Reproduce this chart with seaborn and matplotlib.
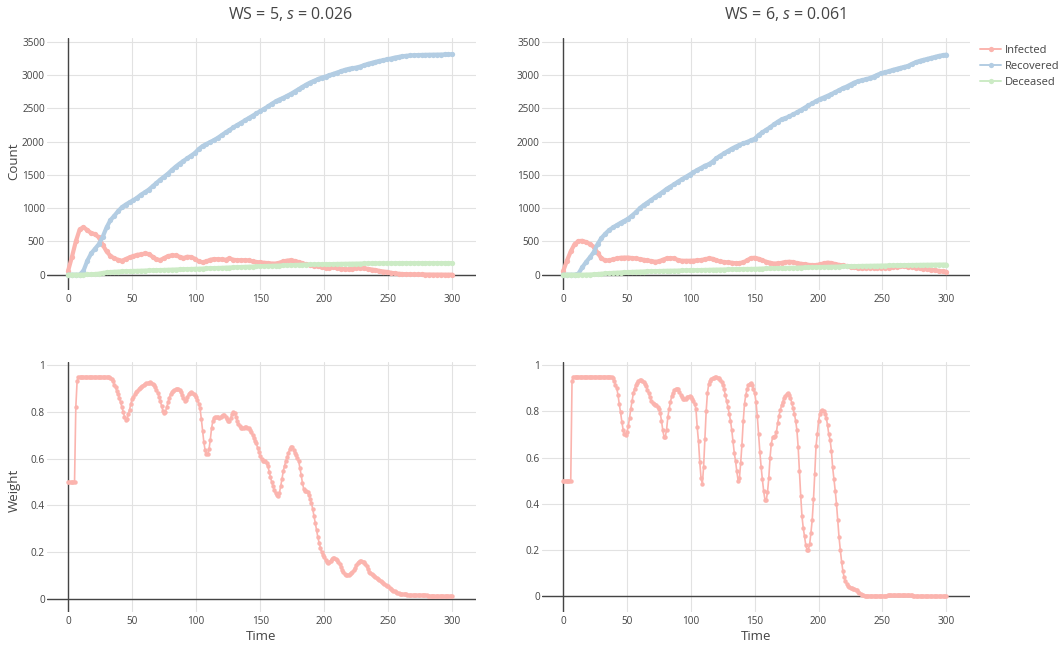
import matplotlib
matplotlib.use("Agg")
import matplotlib.pyplot as plt
import pandas as pd
import seaborn as sns

# time axes (counts were read every 3 steps, weights every step)
time_counts = list(range(0, 301, 3))
time_weight = list(range(0, 301))

status_names = ["Infected", "Recovered", "Deceased"]

# WS = 5, s = 0.026
infected_ws5 = [
    60, 270, 500, 680, 715, 670, 625, 610, 560, 450,
    350, 285, 245, 225, 210, 235, 260, 280, 300, 305,
    320, 310, 270, 230, 220, 250, 280, 290, 290, 270,
    250, 270, 265, 240, 200, 185, 200, 225, 235, 232,
    230, 225, 245, 225, 218, 218, 218, 215, 200, 190,
    185, 180, 175, 168, 168, 180, 200, 212, 218, 205,
    190, 170, 155, 145, 135, 125, 110, 105, 108, 110,
    100, 90, 82, 80, 92, 98, 98, 95, 88, 78,
    70, 58, 48, 42, 30, 20, 15, 10, 8, 6,
    5, 4, 4, 3, 3, 2, 2, 2, 1, 1,
    1]
recovered_ws5 = [
    0, 0, 0, 0, 60, 210, 320, 390, 460, 570,
    710, 820, 885, 955, 1015, 1055, 1090, 1120, 1160, 1205,
    1240, 1280, 1330, 1380, 1430, 1475, 1520, 1575, 1625, 1670,
    1710, 1750, 1790, 1830, 1890, 1935, 1965, 1995, 2025, 2060,
    2100, 2140, 2175, 2215, 2250, 2285, 2320, 2355, 2390, 2425,
    2460, 2495, 2530, 2570, 2605, 2635, 2660, 2690, 2720, 2755,
    2790, 2825, 2860, 2890, 2915, 2940, 2965, 2980, 3000, 3020,
    3040, 3060, 3080, 3095, 3105, 3115, 3130, 3150, 3170, 3185,
    3200, 3215, 3225, 3240, 3250, 3265, 3275, 3285, 3292, 3297,
    3300, 3303, 3305, 3307, 3308, 3309, 3310, 3311, 3312, 3313,
    3315]
deceased_ws5 = [
    0, 0, 0, 0, 2, 4, 6, 10, 16, 26,
    34, 40, 44, 47, 50, 52, 54, 56, 58, 60,
    62, 64, 66, 68, 70, 72, 74, 76, 78, 80,
    82, 84, 86, 88, 90, 92, 95, 97, 99, 101,
    103, 106, 108, 110, 113, 115, 118, 120, 122, 125,
    128, 130, 132, 134, 136, 138, 140, 142, 144, 146,
    148, 150, 152, 154, 155, 156, 157, 158, 159, 160,
    162, 163, 164, 165, 166, 167, 168, 169, 170, 170,
    171, 171, 172, 172, 172, 172, 173, 173, 173, 173,
    173, 173, 173, 173, 173, 173, 173, 173, 173, 173,
    173]
weight_ws5 = [
    0.50, 0.50, 0.50, 0.50, 0.50, 0.50, 0.82, 0.93, 0.95, 0.95,
    0.95, 0.95, 0.95, 0.95, 0.95, 0.95, 0.95, 0.95, 0.95, 0.95,
    0.95, 0.95, 0.95, 0.95, 0.95, 0.95, 0.95, 0.95, 0.95, 0.95,
    0.95, 0.95, 0.95, 0.945, 0.94, 0.93, 0.915, 0.905, 0.89, 0.875,
    0.86, 0.84, 0.82, 0.80, 0.78, 0.765, 0.77, 0.79, 0.81, 0.835,
    0.855, 0.865, 0.875, 0.885, 0.89, 0.897, 0.903, 0.908, 0.912, 0.916,
    0.919, 0.922, 0.924, 0.925, 0.926, 0.925, 0.92, 0.913, 0.905, 0.895,
    0.88, 0.865, 0.845, 0.825, 0.805, 0.797, 0.80, 0.82, 0.84, 0.86,
    0.875, 0.884, 0.89, 0.893, 0.896, 0.898, 0.898, 0.895, 0.885, 0.872,
    0.858, 0.848, 0.85, 0.862, 0.875, 0.882, 0.884, 0.882, 0.877, 0.872,
    0.863, 0.852, 0.835, 0.815, 0.77, 0.72, 0.67, 0.635, 0.62, 0.62,
    0.64, 0.68, 0.73, 0.76, 0.775, 0.78, 0.78, 0.777, 0.775, 0.778,
    0.783, 0.787, 0.786, 0.78, 0.77, 0.762, 0.762, 0.775, 0.79, 0.80,
    0.795, 0.78, 0.763, 0.748, 0.738, 0.733, 0.732, 0.733, 0.735, 0.735,
    0.733, 0.73, 0.723, 0.712, 0.70, 0.69, 0.675, 0.665, 0.645, 0.63,
    0.61, 0.597, 0.592, 0.59, 0.588, 0.58, 0.567, 0.545, 0.52, 0.50,
    0.482, 0.465, 0.452, 0.443, 0.44, 0.455, 0.482, 0.515, 0.546, 0.57,
    0.59, 0.607, 0.624, 0.64, 0.652, 0.65, 0.638, 0.625, 0.615, 0.605,
    0.59, 0.56, 0.53, 0.495, 0.47, 0.462, 0.46, 0.456, 0.445, 0.428,
    0.41, 0.385, 0.355, 0.325, 0.295, 0.265, 0.24, 0.22, 0.20, 0.19,
    0.178, 0.168, 0.158, 0.154, 0.158, 0.165, 0.172, 0.176, 0.176, 0.172,
    0.167, 0.16, 0.15, 0.138, 0.125, 0.114, 0.107, 0.103, 0.102, 0.104,
    0.108, 0.112, 0.118, 0.124, 0.133, 0.145, 0.155, 0.16, 0.162, 0.162,
    0.16, 0.157, 0.15, 0.14, 0.127, 0.115, 0.11, 0.107, 0.104, 0.10,
    0.095, 0.09, 0.085, 0.08, 0.077, 0.073, 0.07, 0.066, 0.062, 0.058,
    0.054, 0.048, 0.044, 0.04, 0.036, 0.033, 0.03, 0.027, 0.025, 0.024,
    0.023, 0.022, 0.021, 0.02, 0.02, 0.019, 0.018, 0.018, 0.017, 0.017,
    0.017, 0.016, 0.016, 0.016, 0.016, 0.016, 0.016, 0.016, 0.016, 0.016,
    0.016, 0.015, 0.015, 0.015, 0.015, 0.015, 0.014, 0.014, 0.014, 0.014,
    0.014, 0.014, 0.013, 0.013, 0.013, 0.013, 0.013, 0.013, 0.013, 0.013,
    0.013]

# WS = 6, s = 0.061
infected_ws6 = [
    50, 210, 350, 460, 505, 510, 490, 460, 420, 330,
    245, 215, 215, 230, 245, 255, 258, 258, 250, 245,
    235, 225, 215, 205, 195, 200, 225, 245, 250, 245,
    220, 210, 210, 210, 212, 215, 220, 232, 245, 240,
    215, 200, 190, 185, 180, 172, 175, 185, 215, 250,
    255, 240, 215, 195, 180, 168, 170, 178, 190, 195,
    190, 175, 165, 158, 148, 145, 145, 155, 170, 182,
    175, 160, 148, 140, 130, 120, 110, 98, 95, 100,
    106, 104, 101, 100, 103, 106, 112, 120, 126, 124,
    118, 115, 108, 98, 90, 84, 76, 66, 58, 50,
    45]
recovered_ws6 = [
    0, 0, 0, 0, 15, 110, 190, 260, 340, 460,
    550, 615, 670, 710, 745, 780, 810, 845, 890, 940,
    1000, 1045, 1085, 1125, 1165, 1205, 1245, 1290, 1325, 1360,
    1400, 1435, 1470, 1505, 1540, 1575, 1605, 1640, 1660, 1700,
    1750, 1790, 1825, 1860, 1895, 1925, 1950, 1975, 1995, 2020,
    2045, 2100, 2140, 2180, 2215, 2260, 2300, 2335, 2355, 2380,
    2410, 2440, 2475, 2510, 2545, 2575, 2610, 2640, 2665, 2690,
    2715, 2745, 2775, 2805, 2830, 2860, 2890, 2910, 2925, 2940,
    2955, 2980, 3005, 3030, 3045, 3060, 3080, 3095, 3110, 3125,
    3140, 3170, 3195, 3215, 3230, 3245, 3260, 3275, 3290, 3300,
    3310]
deceased_ws6 = [
    0, 0, 0, 0, 0, 0, 2, 3, 5, 10,
    15, 19, 23, 27, 30, 33, 36, 39, 42, 44,
    46, 48, 50, 52, 54, 55, 57, 59, 60, 61,
    62, 64, 65, 66, 67, 69, 70, 72, 73, 75,
    76, 77, 78, 80, 81, 82, 84, 85, 86, 87,
    88, 90, 92, 94, 95, 97, 98, 100, 102, 103,
    105, 106, 108, 110, 111, 113, 114, 115, 117, 118,
    120, 121, 123, 124, 126, 128, 129, 130, 132, 133,
    134, 135, 136, 137, 138, 139, 140, 141, 142, 143,
    145, 146, 147, 148, 149, 150, 150, 151, 152, 152,
    153]
weight_ws6 = [
    0.50, 0.50, 0.50, 0.50, 0.50, 0.50, 0.50, 0.93, 0.95, 0.95,
    0.95, 0.95, 0.95, 0.95, 0.95, 0.95, 0.95, 0.95, 0.95, 0.95,
    0.95, 0.95, 0.95, 0.95, 0.95, 0.95, 0.95, 0.95, 0.95, 0.95,
    0.95, 0.95, 0.95, 0.95, 0.95, 0.95, 0.95, 0.95, 0.95, 0.945,
    0.93, 0.915, 0.90, 0.87, 0.83, 0.795, 0.755, 0.72, 0.70, 0.698,
    0.71, 0.735, 0.77, 0.81, 0.845, 0.878, 0.898, 0.913, 0.924, 0.93,
    0.934, 0.935, 0.932, 0.926, 0.918, 0.908, 0.893, 0.878, 0.86, 0.845,
    0.836, 0.832, 0.828, 0.826, 0.82, 0.81, 0.792, 0.76, 0.72, 0.69,
    0.69, 0.72, 0.775, 0.81, 0.84, 0.864, 0.88, 0.89, 0.896, 0.897,
    0.895, 0.885, 0.872, 0.86, 0.854, 0.852, 0.855, 0.86, 0.863, 0.864,
    0.861, 0.855, 0.845, 0.83, 0.81, 0.73, 0.67, 0.58, 0.51, 0.486,
    0.56, 0.68, 0.80, 0.88, 0.917, 0.932, 0.94, 0.943, 0.945, 0.946,
    0.946, 0.945, 0.942, 0.937, 0.928, 0.915, 0.895, 0.87, 0.845, 0.82,
    0.79, 0.76, 0.72, 0.67, 0.62, 0.584, 0.54, 0.50, 0.51, 0.575,
    0.656, 0.756, 0.832, 0.87, 0.895, 0.913, 0.92, 0.921, 0.912, 0.895,
    0.878, 0.84, 0.78, 0.70, 0.625, 0.56, 0.505, 0.455, 0.418, 0.415,
    0.45, 0.51, 0.60, 0.66, 0.688, 0.69, 0.693, 0.71, 0.75, 0.78,
    0.805, 0.825, 0.842, 0.857, 0.868, 0.875, 0.878, 0.872, 0.858, 0.836,
    0.812, 0.79, 0.76, 0.72, 0.645, 0.54, 0.435, 0.345, 0.295, 0.259,
    0.22, 0.201, 0.202, 0.225, 0.275, 0.33, 0.42, 0.53, 0.65, 0.70,
    0.76, 0.79, 0.803, 0.806, 0.80, 0.788, 0.772, 0.74, 0.70, 0.676,
    0.63, 0.557, 0.507, 0.457, 0.40, 0.33, 0.255, 0.20, 0.15, 0.11,
    0.082, 0.065, 0.053, 0.045, 0.04, 0.036, 0.034, 0.033, 0.032, 0.029,
    0.025, 0.02, 0.014, 0.01, 0.006, 0.004, 0.003, 0.003, 0.003, 0.003,
    0.003, 0.003, 0.003, 0.003, 0.003, 0.003, 0.003, 0.003, 0.003, 0.003,
    0.003, 0.003, 0.003, 0.003, 0.004, 0.004, 0.004, 0.005, 0.005, 0.005,
    0.006, 0.006, 0.006, 0.006, 0.006, 0.006, 0.006, 0.006, 0.005, 0.005,
    0.005, 0.004, 0.004, 0.004, 0.003, 0.003, 0.003, 0.002, 0.002, 0.002,
    0.002, 0.002, 0.002, 0.002, 0.002, 0.002, 0.002, 0.002, 0.002, 0.002,
    0.001, 0.001, 0.001, 0.001, 0.001, 0.001, 0.001, 0.001, 0.001, 0.001,
    0.001]

count_ticks = [0, 500, 1000, 1500, 2000, 2500, 3000, 3500]
weight_ticks = [0, 0.2, 0.4, 0.6, 0.8, 1]
weight_tick_labels = ["0", "0.2", "0.4", "0.6", "0.8", "1"]
time_ticks = [0, 50, 100, 150, 200, 250, 300]

palette = {"Infected": "#fbb4ae", "Recovered": "#b3cde3", "Deceased": "#ccebc5"}
text_color = "#444444"

sns.set_theme(style="white")
plt.rcParams["font.family"] = ["Open Sans", "DejaVu Sans"]
plt.rcParams["mathtext.fontset"] = "custom"
plt.rcParams["mathtext.rm"] = "Open Sans"
plt.rcParams["mathtext.it"] = "Open Sans:italic"

W, H = 1061, 648
fig = plt.figure(figsize=(W / 100, H / 100), dpi=100)


def px_axes(x0, y0, x1, y1):
    return fig.add_axes([x0 / W, 1 - y1 / H, (x1 - x0) / W, (y1 - y0) / H])


ax_tl = px_axes(47, 38, 476, 290)
ax_tr = px_axes(542, 38, 970, 290)
ax_bl = px_axes(47, 362, 476, 612)
ax_br = px_axes(542, 362, 970, 612)


def counts_frame(infected, recovered, deceased):
    n = len(time_counts)
    return pd.DataFrame({
        "Time": time_counts * 3,
        "Count": infected + recovered + deceased,
        "Status": ["Infected"] * n + ["Recovered"] * n + ["Deceased"] * n,
    })


for ax, inf, rec, dec in [(ax_tl, infected_ws5, recovered_ws5, deceased_ws5),
                          (ax_tr, infected_ws6, recovered_ws6, deceased_ws6)]:
    sns.lineplot(data=counts_frame(inf, rec, dec), x="Time", y="Count", hue="Status",
                 hue_order=status_names, palette=palette, legend=False, ax=ax,
                 zorder=3, marker="o", markersize=3.8, markeredgewidth=0, linewidth=3.0)

for ax, w in [(ax_bl, weight_ws5), (ax_br, weight_ws6)]:
    sns.lineplot(x=time_weight, y=w, color=palette["Infected"], ax=ax, zorder=3,
                 marker="o", markersize=3.2, markeredgewidth=0, linewidth=1.2)


def style(ax, xlim, ylim, yticks, ylabels):
    ax.set_xlim(*xlim)
    ax.set_ylim(*ylim)
    ax.set_xticks(time_ticks)
    ax.set_xticklabels([str(t) for t in time_ticks])
    ax.set_yticks(yticks)
    ax.set_yticklabels(ylabels)
    ax.set_xlabel("")
    ax.set_ylabel("")
    for sp in ax.spines.values():
        sp.set_visible(False)
    ax.grid(True, color="#e2e2e2", linewidth=0.8)
    ax.set_axisbelow(True)
    ax.axhline(0, color=text_color, linewidth=1.0, zorder=2)
    ax.axvline(0, color=text_color, linewidth=1.0, zorder=2)
    ax.tick_params(axis="x", length=0, pad=3, labelsize=7.2, labelcolor=text_color)
    ax.tick_params(axis="y", length=0, pad=1.5, labelsize=7.2, labelcolor=text_color)


style(ax_tl, (-16.5, 318.5), (-230, 3560), count_ticks, [str(v) for v in count_ticks])
style(ax_tr, (-16.5, 318.5), (-230, 3560), count_ticks, [str(v) for v in count_ticks])
style(ax_bl, (-16.5, 318.5), (-0.055, 1.013), weight_ticks, weight_tick_labels)
style(ax_br, (-16.5, 318.5), (-0.068, 1.013), weight_ticks, weight_tick_labels)

fig.text(290 / W, 1 - 14 / H, "WS = 5, $\\mathit{s}$ = 0.026", ha="center", va="center",
         fontsize=11.5, color=text_color)
fig.text(785 / W, 1 - 14 / H, "WS = 6, $\\mathit{s}$ = 0.061", ha="center", va="center",
         fontsize=11.5, color=text_color)
fig.text(14 / W, 1 - 161 / H, "Count", rotation=90, ha="center", va="center",
         fontsize=9.5, color=text_color)
fig.text(14 / W, 1 - 490 / H, "Weight", rotation=90, ha="center", va="center",
         fontsize=9.5, color=text_color)
fig.text(261 / W, 1 - 637 / H, "Time", ha="center", va="center", fontsize=9.5, color=text_color)
fig.text(756 / W, 1 - 637 / H, "Time", ha="center", va="center", fontsize=9.5, color=text_color)

legend_handles = list(ax_tr.get_lines()[:3])
leg = fig.legend(legend_handles, status_names, loc="upper left",
                 bbox_to_anchor=(980 / W, 1 - 45 / H), frameon=False, fontsize=8,
                 handlelength=1.9, labelspacing=0.45, handletextpad=0.35,
                 borderaxespad=0, borderpad=0)
for h in leg.legend_handles:
    h.set_linewidth(1.4)
for t in leg.get_texts():
    t.set_color(text_color)

fig.savefig("out.png", dpi=100)
